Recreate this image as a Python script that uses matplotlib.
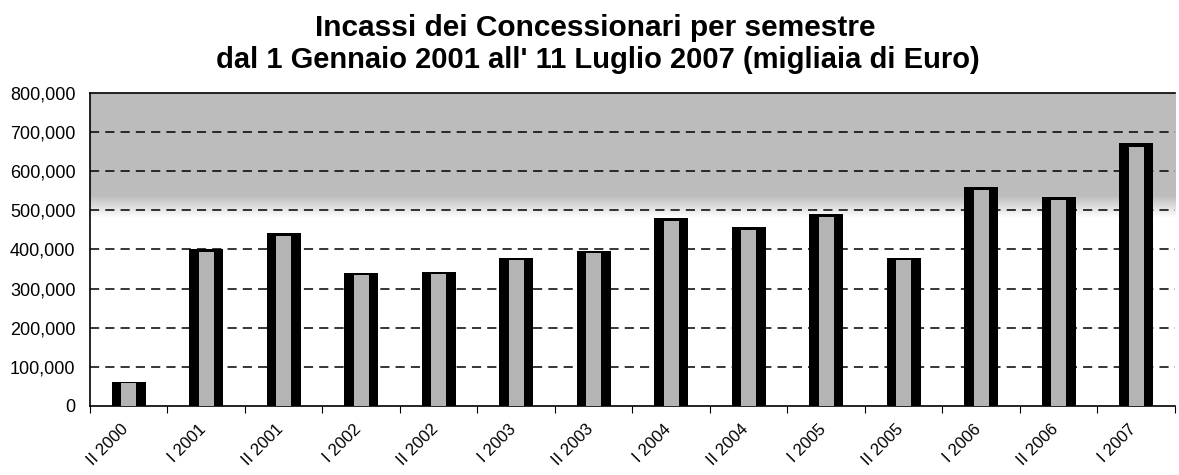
import numpy as np
import matplotlib
matplotlib.use("Agg")
import matplotlib.pyplot as plt
import matplotlib.transforms as mtransforms
from matplotlib.ticker import FuncFormatter, FixedLocator

categories = ["II 2000", "I 2001", "II 2001", "I 2002", "II 2002", "I 2003", "II 2003",
              "I 2004", "II 2004", "I 2005", "II 2005", "I 2006", "II 2006", "I 2007"]
values = [60000, 400000, 441000, 339000, 342000, 378000, 396000,
          480000, 457000, 490000, 379000, 560000, 534000, 671000]
title_line1 = "Incassi dei Concessionari per semestre"
title_line2 = "dal 1 Gennaio 2001 all' 11 Luglio 2007 (migliaia di Euro)"

plt.rcParams['font.family'] = ['Liberation Sans', 'DejaVu Sans']

fig = plt.figure(figsize=(11.79, 4.75), dpi=100)
ax = fig.add_axes([0.0763, 0.1453, 0.9203, 0.6595])

x = np.arange(len(categories))
ax.set_xlim(-0.5, len(categories) - 0.5)
ax.set_ylim(0, 800000)

# background: grey upper band fading to white near 500,000
frac = np.linspace(0, 1, 400)
w = np.clip((frac - 0.60) / 0.07, 0, 1)
col = w * 0.74 + (1 - w) * 1.0
bg = np.ones((400, 2, 3)) * col[:, None, None]
ax.imshow(bg, extent=[-0.5, len(categories) - 0.5, 0, 800000], origin='lower',
          aspect='auto', zorder=0, interpolation='bilinear')

for yv in range(100000, 800000, 100000):
    ax.axhline(yv, color='black', lw=1.1, ls=(0, (6, 4)), zorder=1)

ax.bar(x, values, width=0.44, color='black', zorder=2)
ax.bar(x, np.array(values) * 0.985, width=0.19, color='#b4b4b4', zorder=3)

ax.yaxis.set_major_locator(FixedLocator(range(0, 800001, 100000)))
ax.yaxis.set_major_formatter(FuncFormatter(lambda v, p: f"{int(v):,}"))
ax.tick_params(axis='y', length=0, labelsize=13, pad=10.5)

ax.xaxis.set_major_locator(FixedLocator(np.arange(-0.5, len(categories), 1.0)))
ax.xaxis.set_major_formatter(FuncFormatter(lambda v, p: ""))
ax.set_xticks(x, minor=True)
ax.set_xticklabels(categories, minor=True, rotation=45, ha='right', rotation_mode='anchor',
                   va='center', fontsize=12)
ax.tick_params(axis='x', which='major', length=5, direction='out', color='black')
ax.tick_params(axis='x', which='minor', length=0, pad=15)
shift = mtransforms.ScaledTranslation(-3 / 100, 0, fig.dpi_scale_trans)
for lab in ax.get_xticklabels(minor=True):
    lab.set_transform(lab.get_transform() + shift)

ax.spines['right'].set_visible(False)
for s in ['left', 'bottom', 'top']:
    ax.spines[s].set_color('black')
    ax.spines[s].set_linewidth(1.2)

fig.text(0.505, 1 - 36 / 475, title_line1, ha='center', va='baseline', fontsize=21.5,
         fontweight='bold')
fig.text(0.507, 1 - 68 / 475, title_line2, ha='center', va='baseline', fontsize=21,
         fontweight='bold')

fig.savefig("out.png", dpi=100)
